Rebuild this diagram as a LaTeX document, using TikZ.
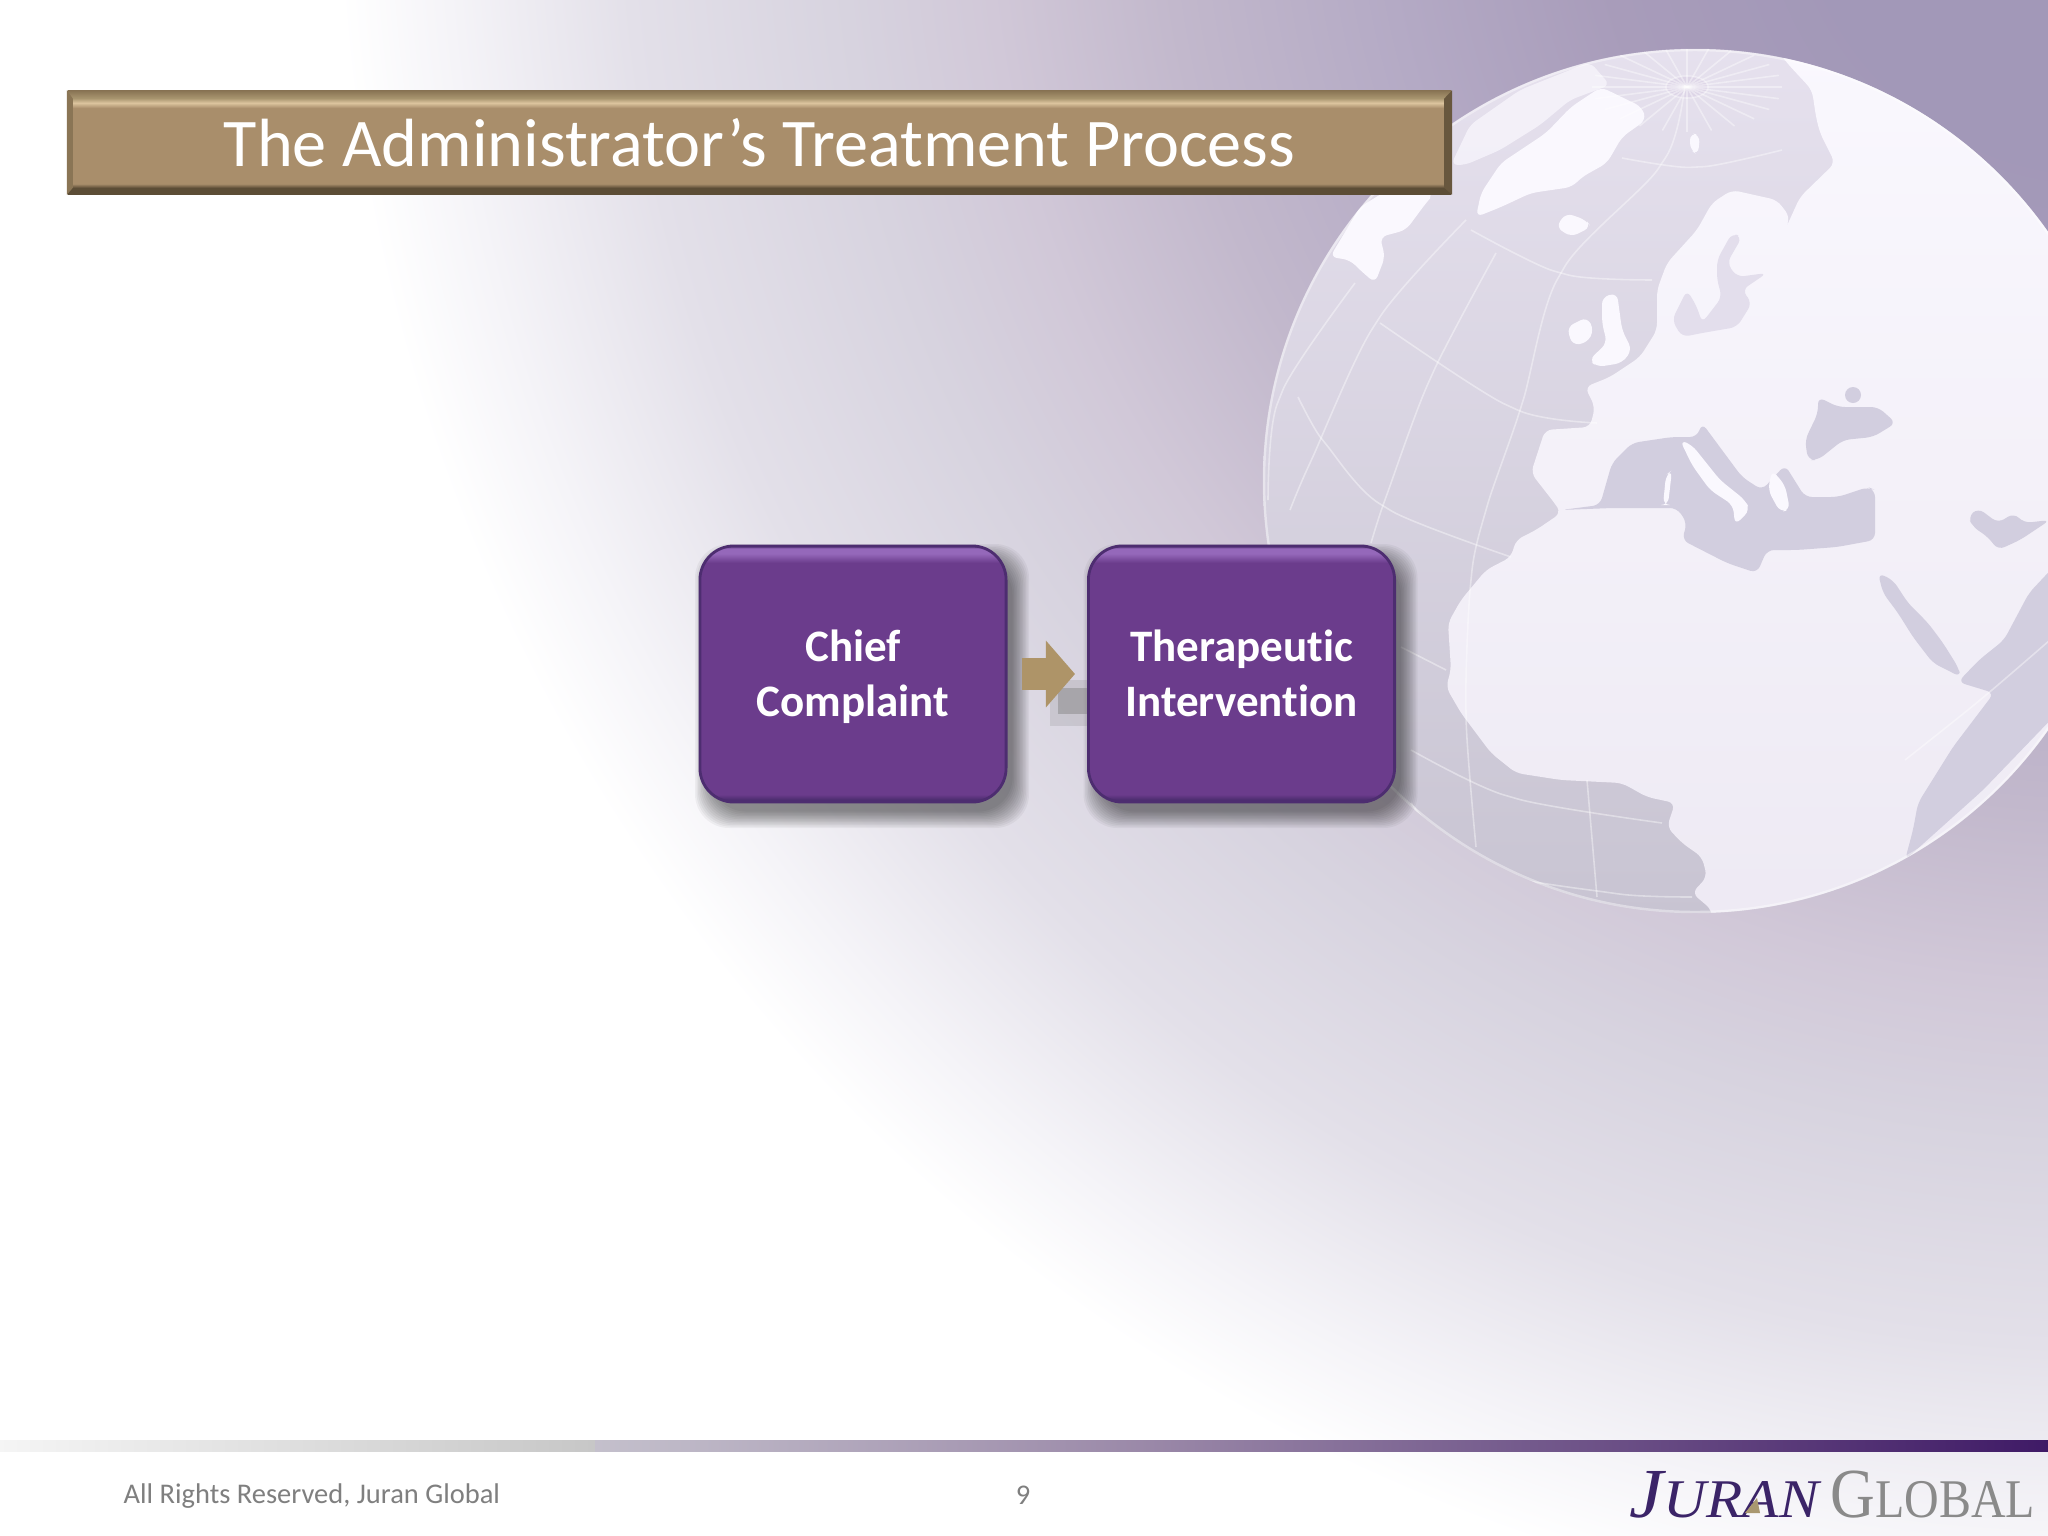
\documentclass[tikz,border=0pt]{standalone}
\usepackage{fontspec}
\usepackage{graphicx}
\setmainfont[Ligatures=NoCommon]{Carlito}
\newfontfamily\logofont{Liberation Serif}
\usetikzlibrary{arrows.meta}
\definecolor{glowa}{HTML}{A298B8}
\definecolor{glowb}{HTML}{A89CBA}
\definecolor{glowc}{HTML}{B4AAC5}
\definecolor{glowd}{HTML}{C2B8CC}
\definecolor{glowe}{HTML}{D1C8D8}
\definecolor{glowf}{HTML}{D7D3DF}
\definecolor{glowg}{HTML}{E3E0E9}
\definecolor{glowh}{HTML}{F5F4F8}
\definecolor{seatop}{HTML}{E6E1EE}
\definecolor{seamid}{HTML}{DDD5E7}
\definecolor{sealow}{HTML}{C8C4D2}
\definecolor{seaflat}{HTML}{D2CEDF}
\definecolor{landtop}{HTML}{FAF8FE}
\definecolor{landlow}{HTML}{EDE9F3}
\definecolor{tanbody}{HTML}{A98E6B}
\definecolor{tanlight}{HTML}{DCC49E}
\definecolor{tanmid}{HTML}{A8956F}
\definecolor{tanedge}{HTML}{8A7555}
\definecolor{tandark}{HTML}{5C4D36}
\definecolor{arrowtan}{HTML}{AE9468}
\definecolor{boxbody}{HTML}{6B3C8C}
\definecolor{boxlight}{HTML}{9568BA}
\definecolor{boxedge}{HTML}{4D2D70}
\definecolor{footgray}{HTML}{7F7F7F}
\definecolor{logopurple}{HTML}{3B2468}
\definecolor{logogray}{HTML}{8A8A8A}
\definecolor{logotan}{HTML}{A99870}
\definecolor{barleft}{HTML}{C4C0CC}
\definecolor{barmid}{HTML}{9A88A8}
\definecolor{barright}{HTML}{3F1A66}
\pgfdeclareradialshading{bgglow}{\pgfpointorigin}{color(0bp)=(glowa);color(4bp)=(glowa);color(7bp)=(glowb);color(10bp)=(glowc);color(13bp)=(glowd);color(15.5bp)=(glowe);color(17.5bp)=(glowf);color(20.5bp)=(glowg);color(23bp)=(glowh);color(24.5bp)=(white);color(50bp)=(white)}
\pgfdeclareverticalshading{boxbevel}{100bp}{color(0bp)=(boxedge);color(25.5bp)=(boxedge);color(26.5bp)=(boxbody);color(71.7bp)=(boxbody);color(73.5bp)=(boxlight);color(74.5bp)=(boxlight);color(75bp)=(boxedge);color(100bp)=(boxedge)}
\pgfdeclareverticalshading{barbevel}{100bp}{color(0bp)=(tandark);color(28bp)=(tandark);color(30bp)=(tanbody);color(66.7bp)=(tanbody);color(69.2bp)=(tanlight);color(71.5bp)=(tanmid);color(75bp)=(tanedge);color(100bp)=(tanedge)}
\newcommand{\boxtop}{\rule{0pt}{12.4pt}}
\newcommand{\boxlow}{\rule[-4pt]{0pt}{4pt}}
\tikzset{
	stepbox/.style={shading=boxbevel,draw=boxedge,line width=0.8pt,rounded corners=0.34cm,minimum width=3.06cm,minimum height=2.56cm,align=center,text=white,font=\fontsize{12.8}{15.6}\selectfont\bfseries},
	titlebar/.style={shading=barbevel,minimum width=13.83cm,minimum height=1.03cm,text=white,font=\fontsize{19.4}{22}\selectfont},
	blockarrow/.style={arrowtan,line width=0.32cm,shorten <=0.14cm,shorten >=0.12cm,-{Triangle[length=0.29cm,width=0.65cm]}},
	footnote/.style={text=footgray,font=\fontsize{8.1}{10}\selectfont},
	gridline/.style={white,opacity=0.4,line width=0.45pt},
	seapatch/.style={fill=seaflat}
}
\begin{document}
\begin{tikzpicture}[x=0.01cm,y=-0.01cm,line join=round]
	\useasboundingbox (0,0) rectangle (2048,1536);
	\fill[white] (0,0) rectangle (2048,1536);
	\begin{scope}
	\clip (0,0) rectangle (2048,1536);
	\shade[shading=bgglow] (2100,-130) circle (1800);
	\end{scope}
	% globe
	\begin{scope}[rounded corners=2pt]
	\clip (1695,481) circle (432);
	\shade[top color=seatop,middle color=seamid,bottom color=sealow] (1260,45) rectangle (2130,917);
	% land
	\shade[top color=landtop,bottom color=landlow] (1531,473)--(1545,430)--(1590,427)--(1595,407)--(1585,387)--(1610,377)--(1640,357)--(1657,330)--(1657,290)--(1667,263)--(1697,230)--(1712,203)--(1732,190)--(1777,200)--(1790,217)--(1785,230)--(1800,197)--(1835,163)--(1820,133)--(1816,117)--(1812,90)--(1787,63)--(1770,40)--(2140,40)--(2140,960)--(1712,960)--(1712,910)--(1692,893)--(1707,877)--(1702,857)--(1682,843)--(1667,827)--(1675,803)--(1647,797)--(1622,783)--(1561,780)--(1516,773)--(1491,753)--(1461,713)--(1446,687)--(1451,670)--(1448,623)--(1461,600)--(1486,570)--(1511,557)--(1516,540)--(1536,530)--(1561,513)--(1556,505)--cycle;
	\fill[landtop] (1476,217)--(1481,193)--(1501,163)--(1546,133)--(1571,107)--(1601,87)--(1642,107)--(1646,120)--(1622,137)--(1607,163)--(1582,177)--(1572,187)--(1531,193)--(1501,207)--cycle;
	\fill[landtop,opacity=0.7] (1451,165)--(1470,125)--(1520,90)--(1590,62)--(1610,85)--(1570,100)--(1540,125)--(1500,150)--(1465,165)--cycle;
	\fill[landtop] (1360,207)--(1330,257)--(1350,260)--(1360,270)--(1375,283)--(1385,257)--(1380,237)--(1406,230)--(1426,203)--(1433,195)--(1420,170)--cycle;
	\fill[landtop] (1556,227)--(1566,213)--(1586,220)--(1591,227)--(1571,237)--cycle;
	\fill[landtop] (1602,297)--(1617,293)--(1622,330)--(1632,350)--(1622,363)--(1597,367)--(1589,360)--(1607,343)--(1602,323)--cycle;
	\fill[landtop] (1567,327)--(1587,317)--(1594,330)--(1587,343)--(1572,345)--cycle;
	\fill[landtop] (1690,133)--(1700,135)--(1698,155)--(1690,150)--cycle;
	% seas
	\fill[seapatch] (1561,510)--(1600,505)--(1612,463)--(1632,443)--(1672,437)--(1697,437)--(1702,423)--(1742,477)--(1762,490)--(1785,465)--(1805,497)--(1838,497)--(1868,487)--(1875,490)--(1875,540)--(1837,547)--(1797,550)--(1767,550)--(1757,573)--(1727,563)--(1682,540)--(1687,523)--(1677,508)--(1612,508)--cycle;
	\fill[landtop] (1680,440)--(1692,445)--(1720,480)--(1745,500)--(1750,510)--(1735,525)--(1733,505)--(1710,490)--(1692,465)--cycle;
	\fill[landtop] (1672,470)--(1668,505)--(1663,505)--(1666,475)--cycle;
	\fill[landtop] (1772,470)--(1785,485)--(1790,510)--(1780,512)--(1768,490)--cycle;
	\fill[seapatch] (1818,397)--(1838,407)--(1878,407)--(1896,423)--(1873,437)--(1843,440)--(1818,460)--(1808,460)--(1805,440)--(1818,413)--cycle;
	\fill[seapatch] (1853,395) circle (8);
	\fill[seatop!85!seaflat] (1717,260)--(1732,233)--(1742,237)--(1727,263)--(1737,277)--(1767,273)--(1742,290)--(1752,303)--(1737,327)--(1702,333)--(1682,337)--(1672,320)--(1687,290)--(1697,307)--(1702,323)--(1722,297)--(1717,280)--cycle;
	\fill[seapatch] (1878,573)--(1893,580)--(1908,603)--(1928,623)--(1943,643)--(1958,667)--(1961,677)--(1933,663)--(1913,637)--(1898,613)--(1883,593)--cycle;
	\fill[seapatch] (1968,517)--(1978,508)--(1998,523)--(2014,513)--(2024,523)--(2050,520)--(2020,540)--(1998,550)--(1988,537)--(1973,527)--cycle;
	\fill[seapatch] (1958,682)--(1994,693)--(1953,747)--(1918,803)--(1913,830)--(1905,860)--(1983,790)--(2060,710)--(2060,560)--(2029,593)--(2004,640)--(1979,660)--cycle;
	% grid lines
	\fill[seamid] (1687,87) ellipse (21 and 11);
	\foreach \ang in {0,15,...,345}
		\draw[gridline] (1687,87) -- ++(\ang:95 and 45);
	\draw[gridline] (1687,87) ellipse (21 and 11);
	\draw[gridline] plot[smooth] coordinates {(1685,85) (1662,163) (1561,273) (1521,407) (1486,510) (1471,580) (1466,713) (1476,847)};
	\draw[gridline] plot[smooth] coordinates {(1496,253) (1431,377) (1386,497) (1371,543)};
	\draw[gridline] plot[smooth] coordinates {(1466,220) (1376,323) (1310,463) (1290,510)};
	\draw[gridline] plot[smooth] coordinates {(1355,283) (1280,397) (1268,500)};
	\draw[gridline] plot[smooth] coordinates {(1587,780) (1597,897)};
	\draw[gridline] plot[smooth] coordinates {(1622,158) (1697,167) (1782,150)};
	\draw[gridline] plot[smooth] coordinates {(1471,230) (1561,273) (1652,280)};
	\draw[gridline] plot[smooth] coordinates {(1380,323) (1511,407) (1597,423)};
	\draw[gridline] plot[smooth] coordinates {(1298,397) (1325,443) (1385,507) (1511,557)};
	\draw[gridline] plot[smooth] coordinates {(1401,647) (1446,670)};
	\draw[gridline] plot[smooth] coordinates {(1411,750) (1511,797) (1662,823)};
	\draw[gridline] plot[smooth] coordinates {(1411,803) (1476,867) (1612,893) (1692,897)};
	\draw[gridline] plot[smooth] coordinates {(1905,760) (1980,700) (2050,640)};
	\end{scope}
	\draw[gridline,line width=0.7pt] (1695,481) circle (431);
	% shadows of the boxes
	\foreach \cx in {853,1241.5}
		\foreach \g in {14,12.5,...,-3}
			\fill[black,opacity=0.045,rounded corners=0.34cm] (\cx-153+9-\g,545+13-\g) rectangle (\cx+153+9+\g,801+13+\g);
	\fill[gray,opacity=0.2] (1050,680) rectangle (1090,726);
	\fill[gray,opacity=0.45] (1058,688) rectangle (1090,714);
	% nodes
	\node[titlebar] (title) at (759.5,142.5) {The Administrator’s Treatment Process};
	\fill[tandark!85!tanbody] (title.north east) -- (title.south east) -- ++(-8,-7) -- ++(0,-89) -- cycle;
	\fill[tanedge] (title.north west) -- (title.south west) -- ++(6,-7) -- ++(0,-89) -- cycle;
	\node[stepbox] (chief) at (853,674) {\boxtop Chief\\\boxlow Complaint};
	\node[stepbox] (therapy) at (1241.5,674) {\boxtop Therapeutic\\\boxlow Intervention};
	\draw[blockarrow] (chief) -- (therapy);
	% footer
	\shade[left color=black!4,right color=black!22] (0,1440) rectangle (595,1451);
	\shade[left color=barleft,right color=barmid] (595,1440) rectangle (1150,1451);
	\shade[left color=barmid,right color=barright] (1150,1440) rectangle (2048,1451);
	\node[footnote,anchor=west,inner sep=0pt] (rights) at (123,1496) {All Rights Reserved, Juran Global};
	\node[footnote,inner sep=0pt] (page) at (1023,1495) {9};
	\node[anchor=base west,inner sep=0pt,text=logopurple] (juran) at (1629,1517) {\scalebox{1.09}[1]{\logofont\itshape\fontsize{20}{20}\selectfont J\fontsize{15.5}{20}\selectfont URAN}};
	\node[anchor=base west,inner sep=0pt,text=logogray] (global) at (1830,1517) {\scalebox{0.88}[1]{\logofont\fontsize{20}{20}\selectfont G\fontsize{15.5}{20}\selectfont LOBAL}};
	\fill[logotan] (1745,1513) -- (1757,1498) -- (1760,1513) -- cycle;
\end{tikzpicture}
\end{document}
